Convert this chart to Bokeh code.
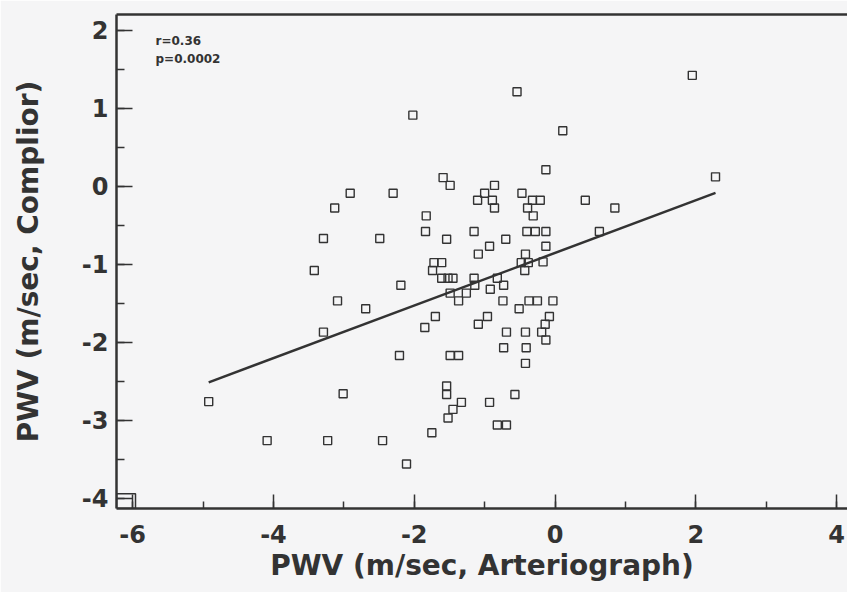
from bokeh.plotting import figure
from bokeh.models import Range1d, SingleIntervalTicker, LinearAxis, FixedTicker, Label, PrintfTickFormatter
from bokeh.embed import file_html
from bokeh.resources import INLINE

x_arteriograph = [
    -2.02, -1.59, -1.49, -2.91, -2.30, -1.10, -3.13, -1.83, -3.29, -2.49, -1.84, -1.54,
    -1.15, -1.09, -3.42, -1.72, -1.61, -1.74, -1.61, -1.52, -1.45, -1.15, -2.19,
    -0.54, 0.11, -0.13, 2.28, -0.86, -1.00, -0.47, -0.89, -0.32, -0.21, 0.43, -0.86,
    -0.39, 0.85, -0.31, -0.40, -0.28, -0.13, 0.63, -0.70, -0.93, -0.13, -0.42, -0.48,
    -0.38, -0.17, -0.43, -0.82, -1.14, -0.92, -0.73,
    1.95,
    -1.49, -1.37, -1.26, -3.09, -2.69, -1.70, -1.85, -3.29, -1.09, -2.21, -1.49, -1.37,
    -4.92, -3.01, -1.54, -1.54, -1.33, -1.45, -1.52, -1.75, -4.09, -3.23, -2.45, -2.11,
    -0.74, -0.51, -0.37, -0.25, -0.03, -0.96, -0.08, -0.14, -0.69, -0.42, -0.19, -0.13,
    -0.73, -0.41, -0.42, -0.93, -0.57, -0.82, -0.69,
]
y_complior = [
    0.91, 0.11, 0.01, -0.09, -0.09, -0.18, -0.28, -0.38, -0.67, -0.67, -0.58, -0.68,
    -0.58, -0.87, -1.08, -0.98, -0.98, -1.08, -1.18, -1.18, -1.18, -1.18, -1.27,
    1.21, 0.71, 0.21, 0.12, 0.01, -0.09, -0.09, -0.18, -0.18, -0.18, -0.18, -0.28,
    -0.28, -0.28, -0.38, -0.58, -0.58, -0.58, -0.58, -0.68, -0.77, -0.77, -0.87, -0.98,
    -0.98, -0.97, -1.08, -1.18, -1.27, -1.32, -1.27,
    1.42,
    -1.37, -1.47, -1.37, -1.47, -1.57, -1.67, -1.81, -1.87, -1.77, -2.17, -2.17, -2.17,
    -2.76, -2.66, -2.56, -2.67, -2.77, -2.86, -2.97, -3.16, -3.26, -3.26, -3.26, -3.56,
    -1.47, -1.57, -1.47, -1.47, -1.47, -1.67, -1.67, -1.77, -1.87, -1.87, -1.87, -1.97,
    -2.07, -2.07, -2.27, -2.77, -2.67, -3.06, -3.06,
]

fit_slope = 0.337
fit_intercept = -0.855
stats_text = ["r=0.36", "p=0.0002"]

x_title = "PWV (m/sec, Arteriograph)"
y_title = "PWV (m/sec, Complior)"

X0, X1 = -6.23, 4.155
Y0, Y1 = -4.13, 2.2

ink = "#333333"
bg = "#f5f5f6"
font = "DejaVu Sans"

p = figure(width=847, height=592, output_backend="svg", toolbar_location=None,
           x_range=Range1d(X0, X1), y_range=Range1d(Y0, Y1),
           min_border_left=116, min_border_right=0, min_border_top=14, min_border_bottom=84,
           background_fill_color=bg, border_fill_color=bg)
p.outline_line_color = None
p.grid.visible = False

p.xaxis.ticker = SingleIntervalTicker(interval=2, num_minor_ticks=2)
p.yaxis.ticker = SingleIntervalTicker(interval=1, num_minor_ticks=2)
p.xaxis.formatter = PrintfTickFormatter(format="%d")
p.yaxis.formatter = PrintfTickFormatter(format="%d")

for ax in (p.xaxis[0], p.yaxis[0]):
    ax.axis_line_color = ink
    ax.axis_line_width = 2.5
    ax.major_tick_line_color = ink
    ax.minor_tick_line_color = ink
    ax.major_tick_line_width = 1.5
    ax.minor_tick_line_width = 1.5
    ax.major_tick_out = 0
    ax.minor_tick_out = 0
    ax.major_label_text_font = font
    ax.major_label_text_font_style = "bold"
    ax.major_label_text_font_size = "24px"
    ax.major_label_text_color = ink
    ax.axis_label_text_font = font
    ax.axis_label_text_font_style = "bold"
    ax.axis_label_text_font_size = "28px"
    ax.axis_label_text_color = ink

p.xaxis.major_tick_in = 14
p.xaxis.minor_tick_in = 7
p.yaxis.major_tick_in = 16
p.yaxis.minor_tick_in = 8
p.xaxis.major_label_standoff = 16
p.yaxis.major_label_standoff = 8
p.xaxis.axis_label = x_title
p.yaxis.axis_label = y_title
p.xaxis.axis_label_standoff = 3
p.yaxis.axis_label_standoff = 34

top = LinearAxis(ticker=FixedTicker(ticks=[]), axis_line_color=ink, axis_line_width=2.5,
                 major_label_text_font_size="0px", major_tick_out=0, major_tick_in=0,
                 minor_tick_out=0, minor_tick_in=0)
p.add_layout(top, "above")

# small box at the axes' origin corner
p.quad(left=[X0], right=[X0 + 0.27], bottom=[Y0], top=[Y0 + 0.19],
       fill_color=None, line_color=ink, line_width=1.5)

xs = [min(x_arteriograph), max(x_arteriograph)]
ys = [fit_intercept + fit_slope * v for v in xs]
p.line(xs, ys, line_color=ink, line_width=2.5)

p.scatter(x_arteriograph, y_complior, marker="square", size=8, fill_color=None,
          line_color=ink, line_width=1.4)

for i, t in enumerate(stats_text):
    p.add_layout(Label(x=X0 + 39 / 70.4, y=Y1 - (26 + 18 * i) / 78.0, text=t,
                       text_font=font, text_font_style="bold",
                       text_font_size="12px", text_color=ink, text_baseline="middle"))

open("out.html", "w").write(file_html(p, INLINE))
